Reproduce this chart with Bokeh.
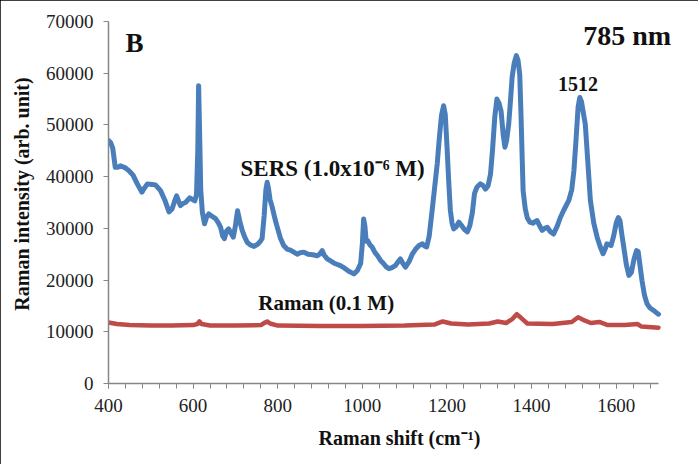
from bokeh.plotting import figure
from bokeh.models import FixedTicker, Label
from bokeh.embed import file_html
from bokeh.resources import INLINE

# ---- data ----
sers_x = [400, 405, 410, 416, 422, 428, 440, 450, 458, 468, 479, 485, 492, 503, 511, 523, 533, 543, 550, 556,
          561, 566, 570, 576, 582, 592, 598, 604, 608, 611, 613, 615, 618, 622, 627, 632, 637, 645, 653, 660,
          665, 670, 674, 679, 684, 690, 695, 700, 705, 710, 716, 722, 728, 735, 744, 752, 758, 763, 768, 772,
          775, 778, 782, 787, 793, 799, 806, 814, 822, 830, 840, 846, 853, 862, 872, 883, 893, 899, 905, 910,
          917, 925, 935, 948, 958, 968, 980, 988, 996, 1000, 1003, 1006, 1009, 1013, 1018, 1023, 1030, 1036,
          1043, 1050, 1056, 1063, 1070, 1078, 1084, 1090, 1096, 1102, 1110, 1118, 1126, 1134, 1142, 1147, 1152,
          1158, 1165, 1171, 1177, 1182, 1187, 1192, 1196, 1200, 1204, 1208, 1212, 1216, 1222, 1228, 1234, 1241,
          1248, 1254, 1260, 1265, 1271, 1279, 1285, 1291, 1297, 1303, 1308, 1313, 1318, 1323, 1328, 1333, 1337,
          1341, 1346, 1350, 1354, 1359, 1364, 1368, 1372, 1375, 1378, 1380, 1385, 1390, 1396, 1403, 1408, 1413,
          1419, 1425, 1431, 1437, 1444, 1452, 1460, 1468, 1476, 1488, 1495, 1500, 1505, 1510, 1514, 1518, 1522,
          1527, 1532, 1539, 1547, 1555, 1562, 1569, 1574, 1578, 1583, 1588, 1594, 1600, 1605, 1609, 1613, 1618,
          1624, 1630, 1636, 1642, 1648, 1652, 1656, 1661, 1667, 1673, 1680, 1689, 1695, 1700]
sers_y = [47000, 46600, 45500, 41800, 41800, 42100, 41700, 41000, 40300, 38600, 37000, 37800, 38600, 38500, 38400,
          37300, 35500, 33200, 33700, 35200, 36300, 35200, 34400, 34800, 35000, 35900, 35600, 35300, 36500, 45000,
          57600, 50000, 37500, 33000, 30900, 32200, 32800, 32300, 31900, 31000, 30200, 28500, 28000, 29500, 29900,
          29000, 28300, 30500, 33400, 31500, 29600, 28300, 27300, 26800, 26500, 26900, 27400, 28000, 32500, 37500,
          38900, 37800, 35500, 34100, 32000, 30200, 28200, 26700, 26000, 25800, 25300, 25000, 25300, 25400, 25000,
          24900, 24700, 25000, 25700, 24800, 24100, 23700, 23200, 22800, 22300, 21700, 21200, 21800, 23200, 27000,
          31800, 30500, 27500, 27600, 26800, 26400, 25300, 24700, 23800, 23200, 22600, 22200, 22400, 22800, 23500,
          24100, 23200, 22500, 23500, 25000, 26000, 26700, 27000, 26600, 26400, 28500, 33500, 38000, 42500, 47500,
          51800, 53700, 52000, 46000, 39300, 33500, 31000, 29900, 30300, 31200, 30600, 29800, 29300, 30500, 33000,
          36700, 38000, 38600, 38300, 37600, 38200, 40500, 45500, 51500, 55000, 54200, 52600, 48000, 45700, 47000,
          50200, 54500, 59200, 62000, 63400, 62500, 59800, 52000, 43000, 37300, 33800, 32000, 31200, 31000, 31300,
          31500, 30500, 29600, 30000, 30200, 29400, 28900, 30300, 32100, 33500, 35400, 37500, 41100, 47000, 53500,
          55300, 54500, 52500, 50100, 44000, 35400, 31000, 28300, 26500, 25100, 26000, 27000, 26900, 26700, 28500,
          31000, 32100, 31500, 29000, 26300, 23000, 20900, 21500, 24000, 25700, 25500, 23000, 19900, 17000, 15400,
          14600, 14100, 13700, 13400]

raman_x = [400, 420, 450, 500, 550, 600, 610, 615, 620, 640, 700, 760, 770, 775, 782, 800, 900, 1000, 1100, 1170,
           1190, 1210, 1250, 1300, 1320, 1340, 1355, 1365, 1375, 1390, 1450, 1495, 1510, 1525, 1540, 1560, 1580,
           1620, 1650, 1660, 1700]
raman_y = [11800, 11500, 11300, 11200, 11200, 11300, 11500, 12000, 11500, 11200, 11200, 11300, 11800, 12000, 11600,
           11200, 11100, 11100, 11200, 11400, 12000, 11600, 11400, 11600, 12000, 11700, 12500, 13400, 12700, 11600,
           11500, 11900, 12800, 12200, 11700, 11900, 11300, 11300, 11500, 11000, 10800]

x_major = [400, 600, 800, 1000, 1200, 1400, 1600]
x_minor = list(range(400, 1700, 40))
y_major = [0, 10000, 20000, 30000, 40000, 50000, 60000, 70000]

FONT = "Liberation Serif"

# axis spans 400..1700 and 0..70000; the frame is a little larger so that
# the annotations in the top-right corner are not clipped
W, H = 698, 464
left, right, top, bottom = 108, 8, 4, 81
px_per_x = 550 / 1300.0
px_per_y = 362 / 70000.0
x_end = 400 + (W - left - right) / px_per_x
y_end = (H - top - bottom) / px_per_y

p = figure(width=W, height=H, x_range=(400, x_end), y_range=(0, y_end),
           output_backend="svg", toolbar_location=None,
           min_border_left=left, min_border_right=right, min_border_top=top, min_border_bottom=bottom)
p.styles = {"outline": "3px solid #000", "outline-offset": "-3px"}
p.outline_line_color = None
p.xgrid.grid_line_color = None
p.ygrid.grid_line_color = None

p.line(sers_x, sers_y, line_color="#4A7EBB", line_width=5, line_join="round", line_cap="round")
p.line(raman_x, raman_y, line_color="#BE4B48", line_width=4.5, line_join="round", line_cap="round")

for ax in (p.xaxis[0], p.yaxis[0]):
    ax.axis_line_color = "#868686"
    ax.axis_line_width = 1.5
    ax.major_tick_line_color = "#868686"
    ax.minor_tick_line_color = "#868686"
    ax.major_tick_in = 0
    ax.major_tick_out = 5
    ax.minor_tick_in = 0
    ax.minor_tick_out = 5
    ax.major_label_text_font = FONT
    ax.major_label_text_font_size = "19px"
    ax.major_label_text_color = "#222222"
    ax.axis_label_text_font = FONT
    ax.axis_label_text_font_style = "bold"
    ax.axis_label_text_font_size = "20px"
    ax.axis_label_text_color = "#111111"

p.xaxis.bounds = (400, 1700)
p.yaxis.bounds = (0, 70000)
p.xaxis.ticker = FixedTicker(ticks=x_major, minor_ticks=x_minor)
p.yaxis.ticker = FixedTicker(ticks=y_major, minor_ticks=[])
p.yaxis.minor_tick_out = 0
p.xaxis.major_label_standoff = 10
p.yaxis.major_label_standoff = 10
p.xaxis.axis_label = "Raman shift (cm\u207b\u00b9)"
p.yaxis.axis_label = "Raman intensity (arb. unit)"
p.xaxis.axis_label_standoff = 12
p.yaxis.axis_label_standoff = 10

def lab(x, y, text, size, align="left"):
    p.add_layout(Label(x=x, y=y, text=text, text_font=FONT, text_font_style="bold",
                       text_font_size=size, text_color="#111111", text_align=align,
                       text_baseline="alphabetic"))

lab(440, 65900, "B", "27px")
lab(1522, 67300, "785 nm", "28px")
lab(1510, 58000, "1512", "20px", align="center")
lab(712, 41600, "SERS (1.0x10\u207b\u2076 M)", "23px")
lab(754, 15500, "Raman (0.1 M)", "21px")

open("out.html", "w").write(file_html(p, INLINE))
